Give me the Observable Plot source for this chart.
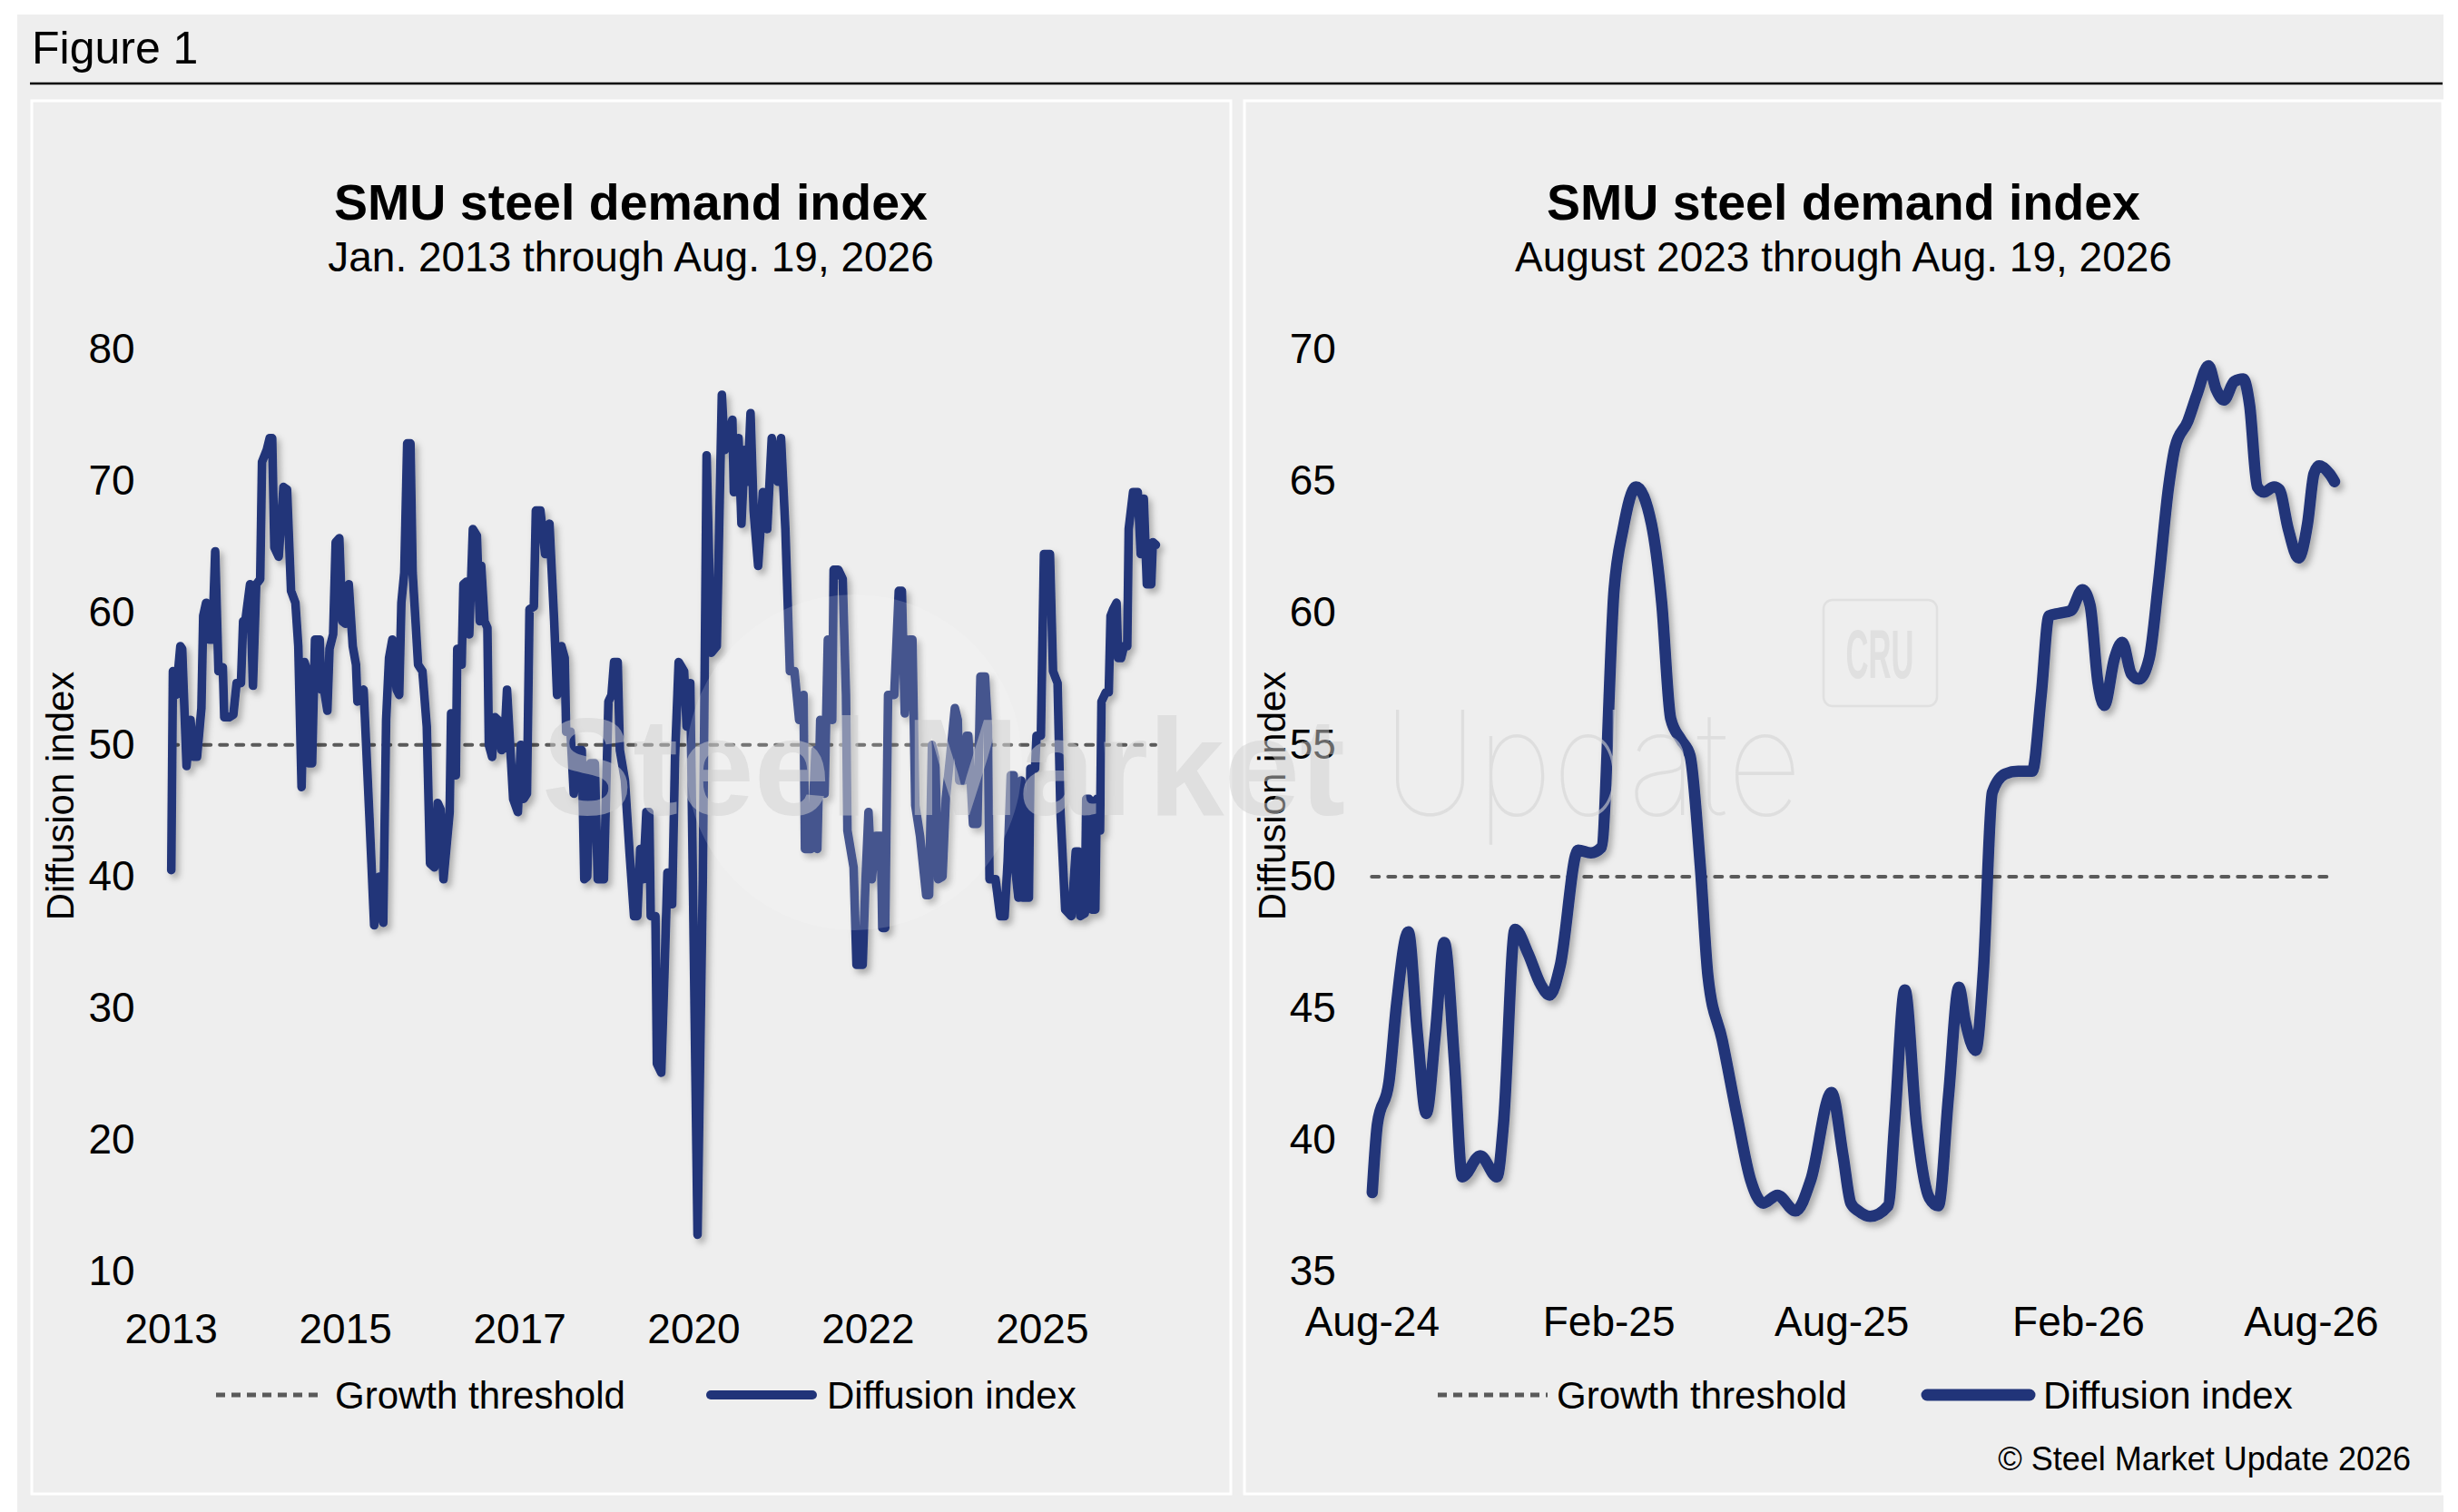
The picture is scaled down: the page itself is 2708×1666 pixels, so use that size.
<!DOCTYPE html>
<html><head><meta charset="utf-8">
<script src="https://cdn.jsdelivr.net/npm/d3@7"></script>
<script src="https://cdn.jsdelivr.net/npm/@observablehq/plot@0.6"></script>
<style>
html,body{margin:0;padding:0;background:#fff;}
#page{position:relative;width:2708px;height:1666px;overflow:hidden;font-family:"Liberation Sans",Arial,Helvetica,sans-serif;}
#page > svg{position:absolute;}
</style></head>
<body><div id="page"></div>
<script>
// ---------- data ----------
const threshold = 50;

// Left chart: survey index (category position) and diffusion index values
const leftIdx = [
0,0.45,1.3,2.5,3,4.2,5.3,6.1,7.1,8.3,
8.8,9.6,10.5,11.3,12.1,13,14.2,14.6,15.9,17.1,
18,19.2,19.8,20.4,21.7,22.5,23.4,24.5,25,26.3,
27.1,27.8,28.4,29.6,30.9,31.9,33,34.2,35,35.9,
36.7,37.5,37.9,38.8,39.6,40.9,41.3,42.1,43,43.6,
44.6,45.3,46.3,47.1,48,48.9,50,50.9,51.3,53,
54.6,55.9,57.3,58.4,59.2,60,60.9,62.1,62.8,63.4,
64.2,65,65.9,66.5,67.3,68,69.2,70.4,71.3,72.5,
73.4,74.2,75,76.7,77.1,78.4,78.8,80,80.5,81.3,
82.1,83.1,84.2,85,85.4,86.3,87.1,87.5,88.4,89.2,
90,91,91.7,92.5,94.2,95.5,96.3,97.1,98,98.7,
99.9,100.45,101.7,103,104.2,105.5,106.3,107.5,108.4,108.8,
110,110.9,112.1,113.1,113.8,114.6,115.45,116.7,117.5,119.2,
120.45,121.3,122,123,123.6,125,126.3,127.5,128.4,129.2,
130,130.9,131.7,132.1,133.4,133.8,135,135.9,136.7,138,
138.8,139.8,141.3,142,143,145,146.45,147.5,148.8,150.3,
151.7,152.5,154.6,155,156.3,157.1,158,158.8,159.6,160.45,
161.7,163,164.2,165.45,167.1,168,169.2,170.45,171.7,173,
174.2,174.6,176.3,177.5,178,178.8,180,180.9,182.1,182.5,
183.8,185,185.9,186.3,188,188.8,190.5,191.3,192.1,193,
194.2,195.5,195.9,196.7,197.5,199.2,200.45,201.3,202.1,203.4,
204.2,205,206.3,208,208.8,209.6,210.5,211.3,212.5,213.4,
214.6,215.9,216.7,217.1,218.4,219.2,219.6,220.9,222.1,222.95,
224.2,225,225.45,227.1,228.4,229.6,230.45,231.3,232.1,232.5,
233.4,234.2,234.6,236.3,236.7,238,238.4,239.6,240.45,242.1,
242.95,244.2,245,246.3,248,249.2,250,250.45,251.7,252.1,
252.9,253.6,254.6,255,255.9,256.3,257.5,258.3,258.8,259.5,
260.45,260.9,261.7,262.5,263.4,263.8,265,266.3,267.1,267.95,
268.8,270,270.45,271.3
];
const leftVal = [
40.5,55.6,53.8,57.5,57.3,48.4,51.9,49.1,49.1,52.8,
59.8,60.8,58,58,64.7,55.6,55.9,52.1,52.1,52.3,
54.7,54.7,59.4,59.4,62.2,54.5,62.2,62.6,71.5,72.4,
73.3,73.3,65,64.3,69.6,69.4,61.7,60.8,57.5,46.8,
56.3,55.6,48.6,48.6,58,58,54.2,54.2,52.6,57.3,
58.4,65.4,65.7,59.4,59.2,62.2,57.5,56.1,53.3,54.2,
44.5,36.3,40,36.5,51.9,56.6,58,54.2,53.8,60.8,
63.1,72.9,72.9,63.1,59.4,56.1,55.6,51.4,41,40.7,
45.6,45.1,39.8,44.9,52.4,47.7,57.3,56.1,62.2,62.4,
58.4,66.4,65.9,59.4,63.6,59.4,58.9,50,49.1,52.1,
51.9,49.6,49.8,54.2,45.9,44.9,50,45.9,46.3,60.3,
60.5,67.8,67.8,64.5,66.8,59.4,53.8,57.5,56.6,51,
51,46.3,49.6,49.6,39.8,40,48.6,48.6,39.8,39.8,
53.3,53.8,56.3,56.3,49.6,47.3,41.7,37,37,42.1,
39.8,44.9,44.9,37,37,25.8,25.1,32.8,40.3,37.9,
49.1,56.3,55.6,51.4,54.7,12.8,39.8,72,57,57.5,
76.6,72.4,74.7,69.2,73.3,66.8,72.4,70,75.2,67.8,
63.6,69.2,66.4,73.3,70,73.3,66.4,55.6,55.6,51.9,
53.8,42.1,42.1,49.6,42.1,51.9,46.3,58,51.9,63.3,
63.3,62.6,53.8,43.5,40.7,33.3,33.3,39.8,44.9,39.8,
43.1,43.1,36.1,36.1,53.8,53.8,61.7,61.7,52.4,58,
58,45.4,43.1,38.6,38.6,50,49,39.8,40,45.9,
49.1,52.8,51.9,47.3,47.3,50.7,50.7,44,44,55.2,
55.2,51.4,39.8,39.8,37,37,41.2,47.7,47.7,40.7,
38.4,47.3,38.4,38.4,48.2,48.2,50.7,50.7,64.5,64.5,
55.6,54.7,44.9,37.5,37,41.9,41.9,37,37.2,45.9,
45.9,37.5,37.5,45.9,43.5,53.3,54,54,59.8,60.3,
60.8,56.6,56.6,57.5,57.5,66.4,69.2,69.2,64.5,68.7,
62.2,62.2,65.4,65.2
];
const leftXTickPos = [0, 48, 96, 144, 192, 240];
const leftXTickLabels = ["2013", "2015", "2017", "2020", "2022", "2025"];
const leftYTicks = [10, 20, 30, 40, 50, 60, 70, 80];

// Right chart: survey dates and values
const rightDates = [
"2024-08-01","2024-08-05","2024-08-14","2024-08-20","2024-08-29","2024-09-05","2024-09-12","2024-09-19","2024-09-26","2024-10-04",
"2024-10-10","2024-10-24","2024-11-06","2024-11-11","2024-11-20","2024-11-30","2024-12-10","2024-12-17","2024-12-25","2025-01-08",
"2025-01-18","2025-01-26","2025-02-05","2025-02-12","2025-02-22","2025-03-06","2025-03-14","2025-03-21","2025-03-29","2025-04-05",
"2025-04-13","2025-04-19","2025-04-30","2025-05-12","2025-05-22","2025-06-01","2025-06-12","2025-06-26","2025-07-08","2025-07-24",
"2025-08-02","2025-08-08","2025-08-14","2025-08-23","2025-09-06","2025-09-11","2025-09-19","2025-09-28","2025-10-08","2025-10-15",
"2025-10-23","2025-10-31","2025-11-05","2025-11-13","2025-11-19","2025-11-26","2025-12-06","2025-12-16","2025-12-27","2026-01-03",
"2026-01-09","2026-01-17","2026-01-26","2026-02-04","2026-02-10","2026-02-16","2026-02-21","2026-03-01","2026-03-07","2026-03-14",
"2026-03-20","2026-03-28","2026-04-04","2026-04-12","2026-04-17","2026-04-27","2026-05-04","2026-05-13","2026-05-19","2026-05-25",
"2026-06-02","2026-06-09","2026-06-14","2026-06-20","2026-06-25","2026-07-03","2026-07-07","2026-07-14","2026-07-22","2026-07-29",
"2026-08-03","2026-08-07","2026-08-15","2026-08-19"
];
const rightVals = [
38.0,40.6,42.2,45.2,47.9,44.1,41.0,44.0,47.5,42.9,
38.6,39.4,38.6,40.6,48.0,47.1,45.9,45.5,46.6,51.0,
50.9,51.1,60.9,63.2,64.8,63.4,60.4,56.0,55.2,54.6,
50.4,46.2,43.8,40.8,38.5,37.6,37.9,37.3,38.5,41.8,
39.4,37.6,37.3,37.1,37.5,40.6,45.7,40.6,37.8,37.5,
41.7,45.8,44.5,43.4,46.4,53.2,53.9,54.0,54.0,56.9,
59.9,60.0,60.1,60.9,60.3,57.4,56.5,58.3,58.9,57.7,
57.5,58.3,61.1,64.8,66.3,67.3,68.3,69.4,68.5,68.1,
68.8,68.9,67.9,64.8,64.6,64.8,64.7,63.2,62.1,63.4,
65.3,65.6,65.3,65.0
];
const rightXTicks = ["2024-08-01", "2025-02-01", "2025-08-01", "2026-02-01", "2026-08-01"];
const rightXStart = "2024-08-01";
const rightYTicks = [35, 40, 45, 50, 55, 60, 65, 70];

// ---------- styling ----------
const FONT = "'Liberation Sans', Arial, Helvetica, sans-serif";
const NAVY = "#213479";
const DASH = "#5a5a5a";
const BG = "#eeeeee";
const NS = "http://www.w3.org/2000/svg";

const page = document.getElementById("page");

function el(tag, attrs, parent, text) {
  const e = document.createElementNS(NS, tag);
  for (const k in attrs) e.setAttribute(k, attrs[k]);
  if (text != null) e.textContent = text;
  if (parent) parent.appendChild(e);
  return e;
}

// ---------- background / decoration layer ----------
const deco = el("svg", {width: 2708, height: 1666, style: "left:0;top:0"}, page);
const defs = el("defs", {}, deco);
const filt = el("filter", {id: "shadow", x: "-5%", y: "-5%", width: "115%", height: "115%"}, defs);
el("feDropShadow", {dx: 4, dy: 5, stdDeviation: 3.5, "flood-color": "#000", "flood-opacity": 0.28}, filt);

el("rect", {x: 19, y: 16, width: 2673, height: 1650, fill: BG}, deco);
el("text", {x: 35, y: 70, "font-family": FONT, "font-size": 50, fill: "#000"}, deco, "Figure 1");
el("line", {x1: 33, x2: 2691, y1: 92, y2: 92, stroke: "#000", "stroke-width": 2.5}, deco);
el("rect", {x: 35, y: 111, width: 1321, height: 1535, fill: "none", stroke: "#fff", "stroke-width": 3}, deco);
el("rect", {x: 1371, y: 111, width: 1320, height: 1535, fill: "none", stroke: "#fff", "stroke-width": 3}, deco);

function panelText(cx, sub) {
  el("text", {x: cx, y: 242, "text-anchor": "middle", "font-family": FONT, "font-size": 55.5, "font-weight": "bold", fill: "#000"}, deco, "SMU steel demand index");
  el("text", {x: cx, y: 299, "text-anchor": "middle", "font-family": FONT, "font-size": 46, fill: "#000"}, deco, sub);
}
panelText(695, "Jan. 2013 through Aug. 19, 2026");
panelText(2031, "August 2023 through Aug. 19, 2026");

function yTitle(x) {
  el("text", {transform: `translate(${x},877) rotate(-90)`, "text-anchor": "middle", "font-family": FONT, "font-size": 42, fill: "#000"}, deco, "Diffusion index");
}
yTitle(81); yTitle(1416);

function legend(dx0, dx1, tx1, sx0, sx1, tx2, sw) {
  el("line", {x1: dx0, x2: dx1, y1: 1537, y2: 1537, stroke: DASH, "stroke-width": 5, "stroke-dasharray": "10,7"}, deco);
  el("text", {x: tx1, y: 1552, "font-family": FONT, "font-size": 42, fill: "#000"}, deco, "Growth threshold");
  el("line", {x1: sx0, x2: sx1, y1: 1537, y2: 1537, stroke: NAVY, "stroke-width": sw, "stroke-linecap": "round"}, deco);
  el("text", {x: tx2, y: 1552, "font-family": FONT, "font-size": 42, fill: "#000"}, deco, "Diffusion index");
}
legend(238, 356, 369, 783, 895, 911, 10);
legend(1584, 1705, 1715, 2123, 2236, 2251, 13);

el("text", {x: 2656, y: 1620, "text-anchor": "end", "font-family": FONT, "font-size": 36, fill: "#000"}, deco, "\u00A9 Steel Market Update 2026");

// ---------- charts ----------
const leftData = leftIdx.map((i, k) => ({i, v: leftVal[k]}));
const rightData = rightDates.map((d, k) => ({date: new Date(d), v: rightVals[k]}));

const common = {
  width: 1321, height: 1535,
  marginTop: 274.1, marginBottom: 245.4,
  style: {background: "transparent", fontFamily: FONT, fontSize: "46px", color: "#000", overflow: "visible"}
};

const leftPlot = Plot.plot({
  ...common,
  marginLeft: 153.2, marginRight: 83,
  x: {domain: [leftIdx[0], leftIdx[leftIdx.length - 1]]},
  y: {domain: [10, 80]},
  marks: [
    Plot.axisY({ticks: leftYTicks, tickSize: 0, tickPadding: 40, label: null, fontSize: 46}),
    Plot.axisX({ticks: leftXTickPos, tickFormat: d => leftXTickLabels[leftXTickPos.indexOf(d)], tickSize: 0, tickPadding: 46.7, label: null, fontSize: 46}),
    Plot.ruleY([threshold], {stroke: DASH, strokeWidth: 4, strokeDasharray: "8,10", strokeLinecap: "round"}),
    Plot.line(leftData, {x: "i", y: "v", stroke: NAVY, strokeWidth: 9.5, strokeLinejoin: "round", strokeLinecap: "round"})
  ]
});
leftPlot.style.left = "35px"; leftPlot.style.top = "111px";
page.appendChild(leftPlot);

const rightPlot = Plot.plot({
  ...common,
  marginLeft: 140.3, marginRight: 120.5,
  x: {type: "utc", domain: [new Date(rightXStart), new Date(rightDates[rightDates.length - 1])]},
  y: {domain: [35, 70]},
  marks: [
    Plot.axisY({ticks: rightYTicks, tickSize: 0, tickPadding: 40, label: null, fontSize: 46}),
    Plot.axisX({ticks: rightXTicks.map(d => new Date(d)), tickFormat: d3.utcFormat("%b-%y"), tickSize: 0, tickPadding: 38.7, label: null, fontSize: 46}),
    Plot.ruleY([threshold], {stroke: DASH, strokeWidth: 4, strokeDasharray: "8,10", strokeLinecap: "round"}),
    Plot.line(rightData, {x: "date", y: "v", curve: "monotone-x", stroke: NAVY, strokeWidth: 12.5, strokeLinejoin: "round", strokeLinecap: "round"})
  ]
});
rightPlot.style.left = "1371px"; rightPlot.style.top = "111px";
page.appendChild(rightPlot);

for (const p of [leftPlot, rightPlot]) {
  d3.select(p).selectAll("g[aria-label='line'] path").attr("filter", "url(#shadow)");
}

// ---------- watermark layer (on top) ----------
const wm = el("svg", {width: 2708, height: 1666, style: "left:0;top:0;pointer-events:none"}, page);
el("circle", {cx: 941, cy: 840, r: 185, fill: "#ffffff", "fill-opacity": 0.16}, wm);
el("text", {x: 597, y: 898, "font-family": FONT, "font-size": 152, "font-weight": "bold", fill: "#d0d0d0", "fill-opacity": 0.5, textLength: 885, lengthAdjust: "spacingAndGlyphs"}, wm, "Steel Market");
el("text", {x: 1524, y: 898, "font-family": "Inter, 'Liberation Sans', sans-serif", "font-size": 160, "font-weight": 100, fill: "#d4d4d4", "fill-opacity": 0.6, textLength: 461, lengthAdjust: "spacingAndGlyphs"}, wm, "Update");
el("rect", {x: 2009, y: 661, width: 125, height: 117, rx: 10, fill: "none", stroke: "#e0e0e0", "stroke-width": 2.5}, wm);
el("text", {x: 2071, y: 747, "text-anchor": "middle", "font-family": "'Liberation Sans Narrow', 'Liberation Sans', sans-serif", "font-size": 76, "font-weight": "bold", fill: "#e0e0e0", textLength: 75, lengthAdjust: "spacingAndGlyphs"}, wm, "CRU");
</script>
</body></html>
